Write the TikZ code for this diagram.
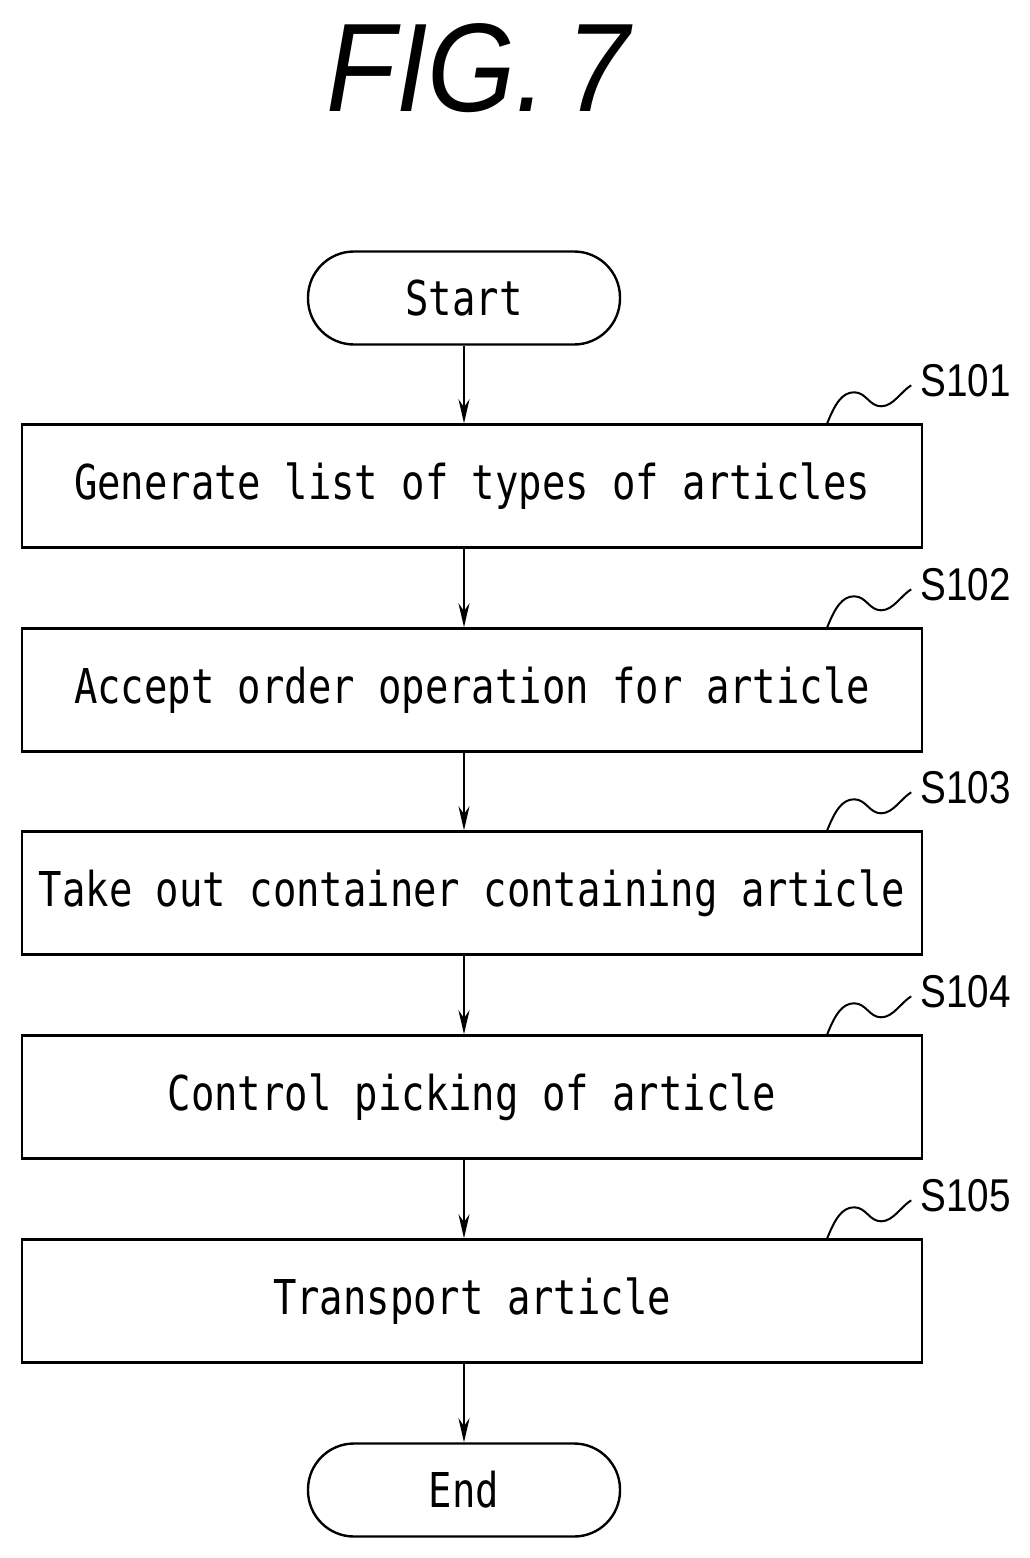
\documentclass[tikz,border=0pt]{standalone}
\usepackage{fontspec}
\setmainfont{Liberation Sans}
\newfontfamily\monof{DejaVu Sans Mono}
\usetikzlibrary{arrows.meta}
\begin{document}
\begin{tikzpicture}[x=1pt,y=-1pt,line width=2.4pt,
  box/.style={draw,minimum width=900pt,minimum height=123pt,inner sep=0pt},
  term/.style={draw,rounded corners=46pt,minimum width=312pt,minimum height=93pt,inner sep=0pt},
  txt/.style={font=\monof\fontsize{48}{50}\selectfont},
  lab/.style={font=\fontsize{46}{48}\selectfont,anchor=west,inner sep=0pt},
  arr/.style={-{Stealth[length=24pt,width=11pt]}}]
\useasboundingbox (0,0) rectangle (1030,1558);
\node[inner sep=0pt] (title) at (478,68) {\scalebox{0.9}[1]{\fontsize{126}{130}\selectfont\itshape FIG.\,7}};
\newcommand{\mtext}[1]{\raisebox{-4pt}{\scalebox{0.81}[1]{#1}}}
\node[term,txt] (start) at (464,298) {\mtext{Start}};
\node[box,txt] (s1) at (472,486) {\mtext{Generate list of types of articles}};
\node[box,txt] (s2) at (472,690) {\mtext{Accept order operation for article}};
\node[box,txt] (s3) at (472,893) {\mtext{Take out container containing article}};
\node[box,txt] (s4) at (472,1097) {\mtext{Control picking of article}};
\node[box,txt] (s5) at (472,1301) {\mtext{Transport article}};
\node[term,txt] (end) at (464,1490) {\mtext{End}};
\foreach \a/\b in {start/s1,s1/s2,s2/s3,s3/s4,s4/s5,s5/end}
  \draw[arr] (\a.south -| start) -- (\b.north -| start);
\foreach \s/\n in {s1/S101,s2/S102,s3/S103,s4/S104,s5/S105}{
  \coordinate (q\s) at ([xshift=-96pt]\s.north east);
  \draw[line width=2pt] (q\s) .. controls +(8,-20) and +(-12,0) .. ++(27,-31)
     .. controls +(12,0) and +(-12,0) .. ++(27,14)
     .. controls +(12,0) and +(-10,6) .. ++(30,-21);
  \node[lab] (l\s) at ([xshift=-4pt,yshift=43pt]\s.north east) {\scalebox{0.84}[1]{\n}};
}
\end{tikzpicture}
\end{document}
